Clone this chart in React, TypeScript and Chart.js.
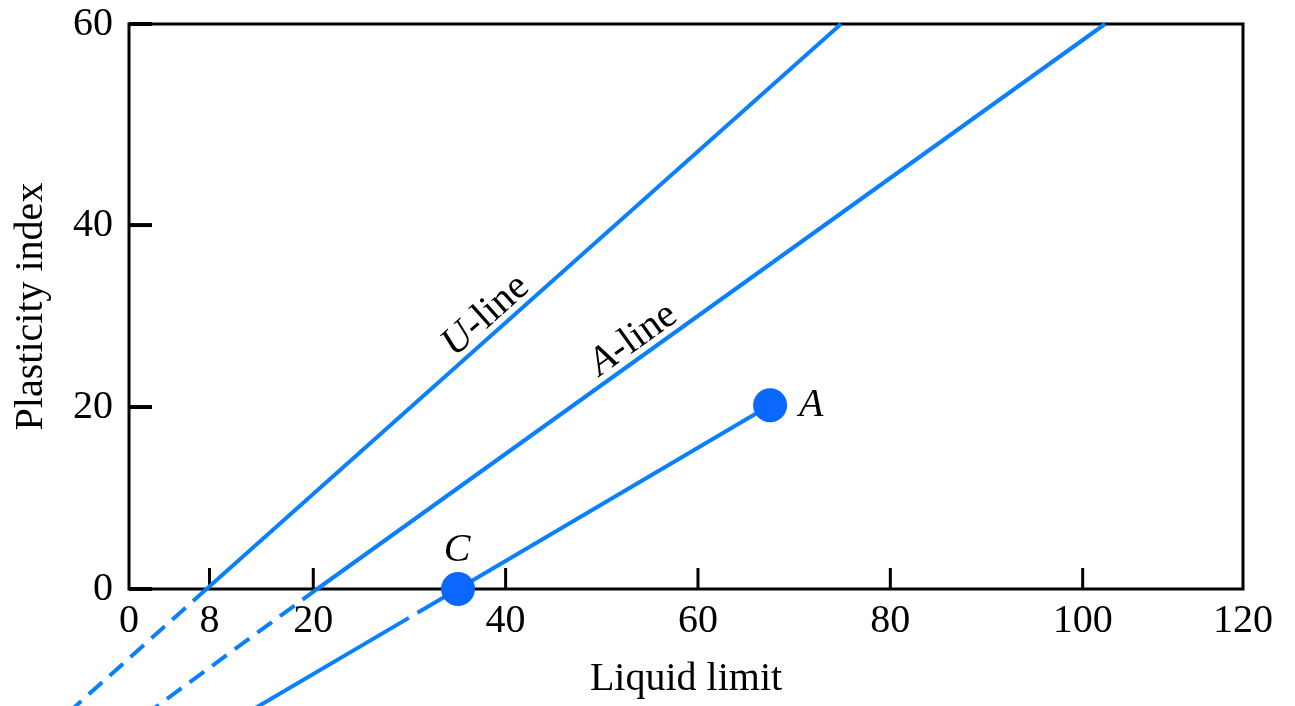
import React, { useEffect, useRef } from "react";
import { Chart, registerables } from "chart.js";

Chart.register(...registerables);

// Scale limits as drawn in the figure (calibrated from interior ticks)
const xScaleMin = 0.84;
const xScaleMax = 116.67;
const yScaleMin = 0;
const yScaleMax = 62.1;

// Tick positions and their printed labels
const xTickValues = [0.84, 9.21, 20, 40, 60, 80, 100, 116.67];
const xTickLabels = ["0", "8", "20", "40", "60", "80", "100", "120"];
const yTickValues = [0, 20, 40, 62.1];
const yTickLabels = ["0", "20", "40", "60"];

// U-line: top end, zero crossing, dashed extension
const uLineLL = [74.87, 8.9, -5.9];
const uLinePI = [62.1, 0, -14];
// A-line
const aLineLL = [102.33, 20.4, 2.3];
const aLinePI = [62.1, 0, -14];
// Line through soil point A and C
const acLineLL = [67.5, 35.05, 12.5];
const acLinePI = [20.2, 0, -14];
// Marked points
const pointNames = ["A", "C"];
const pointLL = [67.5, 35.05];
const pointPI = [20.2, 0];

// Where the line labels sit (liquid limit along the line)
const uLabelLL = 39.2;
const aLabelLL = 54.4;

const LINE_COLOR = "#0a80ff";
const POINT_COLOR = "#0a68ff";
const SERIF = "'Liberation Serif', 'Times New Roman', serif";

const toXY = (xs: number[], ys: number[]) => xs.map((x, i) => ({ x, y: ys[i] }));

const dashBelowZero = (pattern: number[]) => (ctx: any) =>
  ctx.p0.parsed.y <= 0 && ctx.p1.parsed.y < 0 ? pattern : undefined;

function lineAt(xs: number[], ys: number[], ll: number) {
  const t = (ll - xs[1]) / (xs[0] - xs[1]);
  return ys[1] + t * (ys[0] - ys[1]);
}

const annotatePlugin = {
  id: "annotate",
  beforeDatasetsDraw(chart: any) {
    const { ctx, chartArea, scales } = chart;
    const { left, right, top, bottom } = chartArea;
    const x = scales.x;
    const y = scales.y;
    ctx.save();
    ctx.strokeStyle = "#000";
    ctx.lineWidth = 3;
    ctx.strokeRect(left, top, right - left, bottom - top);
    ctx.lineCap = "butt";
    xTickValues.forEach((v, i) => {
      if (i === 0 || i === xTickValues.length - 1) return;
      const px = x.getPixelForValue(v);
      ctx.beginPath();
      ctx.moveTo(px, bottom);
      ctx.lineTo(px, bottom - 21);
      ctx.stroke();
    });
    ctx.lineWidth = 4;
    yTickValues.forEach((v) => {
      const py = y.getPixelForValue(v);
      ctx.beginPath();
      ctx.moveTo(left, py);
      ctx.lineTo(left + 23, py);
      ctx.stroke();
    });
    ctx.restore();
  },
  afterDatasetsDraw(chart: any) {
    const { ctx, scales } = chart;
    const x = scales.x;
    const y = scales.y;
    const drawLineLabel = (xs: number[], ys: number[], ll: number, prefix: string) => {
      const p0x = x.getPixelForValue(xs[1]);
      const p0y = y.getPixelForValue(ys[1]);
      const p1x = x.getPixelForValue(xs[0]);
      const p1y = y.getPixelForValue(ys[0]);
      const ang = Math.atan2(p1y - p0y, p1x - p0x);
      const ax = x.getPixelForValue(ll);
      const ay = y.getPixelForValue(lineAt(xs, ys, ll));
      ctx.save();
      ctx.translate(ax, ay);
      ctx.rotate(ang);
      ctx.fillStyle = "#000";
      ctx.textBaseline = "alphabetic";
      ctx.textAlign = "left";
      const italic = `italic 40px ${SERIF}`;
      const normal = `40px ${SERIF}`;
      ctx.font = italic;
      const w1 = ctx.measureText(prefix).width;
      ctx.font = normal;
      const w2 = ctx.measureText("-line").width;
      const start = -(w1 + w2) / 2;
      ctx.font = italic;
      ctx.fillText(prefix, start, -8);
      ctx.font = normal;
      ctx.fillText("-line", start + w1, -8);
      ctx.restore();
    };
    drawLineLabel(uLineLL, uLinePI, uLabelLL, "U");
    drawLineLabel(aLineLL, aLinePI, aLabelLL, "A");

    ctx.save();
    ctx.fillStyle = "#000";
    ctx.font = `italic 40px ${SERIF}`;
    ctx.textAlign = "center";
    ctx.textBaseline = "alphabetic";
    const ax = x.getPixelForValue(pointLL[0]);
    const ay = y.getPixelForValue(pointPI[0]);
    ctx.fillText(pointNames[0], ax + 41, ay + 11);
    const cx = x.getPixelForValue(pointLL[1]);
    const cy = y.getPixelForValue(pointPI[1]);
    ctx.fillText(pointNames[1], cx - 1, cy - 28);
    ctx.restore();
  },
};

export default function App() {
  const ref = useRef<HTMLCanvasElement>(null);

  useEffect(() => {
    if (!ref.current) return;
    const lineDs = (label: string, xs: number[], ys: number[], dash: number[]) => ({
      label,
      data: toXY(xs, ys),
      showLine: true,
      borderColor: LINE_COLOR,
      borderWidth: 4,
      pointRadius: 0,
      fill: false,
      clip: false as any,
      segment: { borderDash: dashBelowZero(dash) },
    });
    const chart = new Chart(ref.current, {
      type: "scatter",
      data: {
        datasets: [
          {
            label: "Points",
            data: toXY(pointLL, pointPI),
            pointRadius: 17,
            pointBackgroundColor: POINT_COLOR,
            pointBorderWidth: 0,
            showLine: false,
            clip: false as any,
          },
          lineDs("A–C", acLineLL, acLinePI, [47, 10, 3000, 0]),
          lineDs("A-line", aLineLL, aLinePI, [18, 10]),
          lineDs("U-line", uLineLL, uLinePI, [18, 10]),
        ],
      },
      options: {
        responsive: false,
        animation: false,
        events: [],
        layout: { padding: { top: 24, right: 52, left: 0, bottom: 0 } },
        plugins: { legend: { display: false }, tooltip: { enabled: false } },
        scales: {
          x: {
            type: "linear",
            min: xScaleMin,
            max: xScaleMax,
            afterBuildTicks: (axis: any) => {
              axis.ticks = xTickValues.map((v) => ({ value: v }));
            },
            afterFit: (axis: any) => {
              axis.height = 117;
            },
            grid: { display: false, drawTicks: false, tickLength: 0 },
            border: { display: false },
            ticks: {
              autoSkip: false,
              maxRotation: 0,
              padding: 8,
              color: "#000",
              font: { family: SERIF, size: 40 },
              callback: (_v: any, i: number) => xTickLabels[i],
            },
            title: {
              display: true,
              text: "Liquid limit",
              color: "#000",
              font: { family: SERIF, size: 40 },
              padding: { top: 0, bottom: 3 },
            },
          },
          y: {
            type: "linear",
            min: yScaleMin,
            max: yScaleMax,
            afterBuildTicks: (axis: any) => {
              axis.ticks = yTickValues.map((v) => ({ value: v }));
            },
            afterFit: (axis: any) => {
              axis.width = 129;
            },
            grid: { display: false, drawTicks: false, tickLength: 0 },
            border: { display: false },
            ticks: {
              autoSkip: false,
              padding: 16,
              color: "#000",
              font: { family: SERIF, size: 40, lineHeight: 0.2 },
              callback: (_v: any, i: number) => yTickLabels[i],
            },
            title: {
              display: true,
              text: "Plasticity index",
              color: "#000",
              font: { family: SERIF, size: 40 },
              padding: { top: 7, bottom: 0 },
            },
          },
        },
      },
      plugins: [annotatePlugin],
    } as any);
    return () => chart.destroy();
  }, []);

  return (
    <div style={{ position: "absolute", left: 0, top: 0, width: 1295, height: 706, background: "#fff" }}>
      <canvas ref={ref} width={1295} height={706} style={{ display: "block", width: 1295, height: 706 }} />
    </div>
  );
}
